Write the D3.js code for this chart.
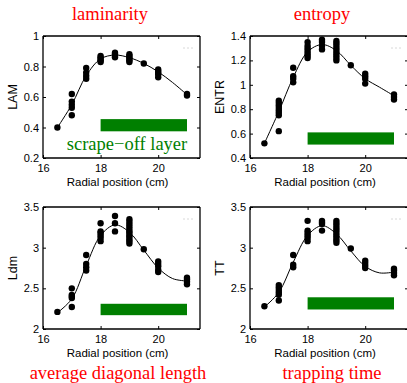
<!DOCTYPE html>
<html>
<head>
<meta charset="utf-8">
<script src="https://cdn.jsdelivr.net/npm/d3@7"></script>
<style>
  body { margin: 0; background: #fff; }
  svg { display: block; }
</style>
</head>
<body>
<svg id="chart"></svg>
<script>
// radial positions where the points were measured
const radial = [16.5, 17, 17.5, 18, 18.5, 19, 19.5, 20, 21];

// measured values, one list per radial position
const lamValues = [
  [0.40], [0.48, 0.53, 0.55, 0.57, 0.62], [0.72, 0.74, 0.76, 0.79],
  [0.83, 0.84, 0.85, 0.86, 0.87], [0.86, 0.87, 0.88, 0.89],
  [0.83, 0.84, 0.85, 0.86, 0.87, 0.88], [0.82], [0.73, 0.75, 0.76, 0.77, 0.78], [0.61, 0.62]
];
const entrValues = [
  [0.52], [0.62, 0.75, 0.77, 0.79, 0.81, 0.83, 0.85, 0.87], [1.02, 1.05, 1.07, 1.14],
  [1.22, 1.24, 1.26, 1.28, 1.30, 1.32, 1.35], [1.29, 1.32, 1.35, 1.37],
  [1.20, 1.22, 1.24, 1.26, 1.28, 1.30, 1.32, 1.34, 1.36], [1.16], [1.01, 1.05, 1.07, 1.09], [0.88, 0.90, 0.92]
];
const ldmValues = [
  [2.21], [2.27, 2.38, 2.40, 2.42, 2.50], [2.72, 2.76, 2.80, 2.91],
  [3.08, 3.12, 3.15, 3.18, 3.20, 3.30], [3.20, 3.30, 3.39],
  [3.05, 3.08, 3.10, 3.13, 3.15, 3.18, 3.20, 3.23, 3.26, 3.29, 3.32, 3.35], [2.98],
  [2.70, 2.73, 2.77, 2.80, 2.83], [2.55, 2.58, 2.61, 2.63]
];
const ttValues = [
  [2.28], [2.35, 2.42, 2.45, 2.48, 2.51, 2.54], [2.76, 2.79, 2.91],
  [3.08, 3.12, 3.15, 3.18, 3.21, 3.33], [3.21, 3.29, 3.31, 3.33],
  [3.06, 3.09, 3.12, 3.15, 3.18, 3.21, 3.24, 3.27, 3.30, 3.33], [2.99],
  [2.75, 2.78, 2.81, 2.84], [2.66, 2.69, 2.72, 2.74]
];

// fitted curves
const fitX = [16.5, 17, 17.5, 18, 18.5, 19, 19.5, 20, 20.5, 21];
const lamFit = [0.40, 0.55, 0.74, 0.85, 0.875, 0.858, 0.82, 0.765, 0.695, 0.615];
const entrFit = [0.52, 0.78, 1.06, 1.27, 1.33, 1.28, 1.16, 1.05, 0.98, 0.91];
const ldmFit = [2.20, 2.37, 2.78, 3.15, 3.28, 3.19, 2.97, 2.75, 2.62, 2.59];
const ttFit = [2.27, 2.45, 2.82, 3.15, 3.27, 3.17, 2.96, 2.77, 2.69, 2.70];

// scrape-off layer band
const solRange = [18, 21];
const lamBand = [0.375, 0.455];
const entrBand = [0.51, 0.61];
const ldmBand = [2.17, 2.31];
const ttBand = [2.24, 2.39];

const xTicks = [16, 18, 20];
const lamTicks = [0.2, 0.4, 0.6, 0.8, 1];
const entrTicks = [0.4, 0.6, 0.8, 1, 1.2, 1.4];
const ldmTicks = [2, 2.5, 3, 3.5];
const ttTicks = [2, 2.5, 3, 3.5];

const width = 407, height = 383;
const svg = d3.select("#chart").attr("width", width).attr("height", height);

const panels = [
  { x0: 43, x1: 200, y0: 36, y1: 158, ylab: "LAM", vals: lamValues, fit: lamFit, band: lamBand,
    yDom: [0.2, 1], yTicks: lamTicks, title: "laminarity", tx: 110, ty: 20 },
  { x0: 250, x1: 408, y0: 36, y1: 158, ylab: "ENTR", vals: entrValues, fit: entrFit, band: entrBand,
    yDom: [0.4, 1.4], yTicks: entrTicks, title: "entropy", tx: 322, ty: 20 },
  { x0: 43, x1: 200, y0: 207, y1: 329, ylab: "Ldm", vals: ldmValues, fit: ldmFit, band: ldmBand,
    yDom: [2, 3.5], yTicks: ldmTicks, title: "average diagonal length", tx: 118, ty: 379 },
  { x0: 250, x1: 408, y0: 207, y1: 329, ylab: "TT", vals: ttValues, fit: ttFit, band: ttBand,
    yDom: [2, 3.5], yTicks: ttTicks, title: "trapping time", tx: 332, ty: 379 }
];

const fmt = d => String(d);

panels.forEach((p, k) => {
  const x = d3.scaleLinear().domain([16, 16 + (p.x1 - p.x0) / 28.8]).range([p.x0, p.x1]);
  const y = d3.scaleLinear().domain(p.yDom).range([p.y1, p.y0]);
  const g = svg.append("g");

  // green band
  g.append("rect")
    .attr("x", x(solRange[0])).attr("width", x(solRange[1]) - x(solRange[0]))
    .attr("y", y(p.band[1])).attr("height", y(p.band[0]) - y(p.band[1]))
    .attr("fill", "#007f00");

  // axes with inward ticks (box style)
  const tick = 3;
  const bottom = d3.axisBottom(x).tickValues(xTicks).tickSize(-tick).tickPadding(6).tickFormat(fmt);
  const top = d3.axisTop(x).tickValues(xTicks).tickSize(-tick).tickFormat("");
  const left = d3.axisLeft(y).tickValues(p.yTicks).tickSize(-tick).tickPadding(4).tickFormat(fmt);
  const right = d3.axisRight(y).tickValues(p.yTicks).tickSize(-tick).tickFormat("");

  const ax = [
    g.append("g").attr("transform", `translate(0,${p.y1})`).call(bottom),
    g.append("g").attr("transform", `translate(0,${p.y0})`).call(top),
    g.append("g").attr("transform", `translate(${p.x0},0)`).call(left),
    g.append("g").attr("transform", `translate(${p.x1},0)`).call(right)
  ];
  ax.forEach(a => {
    a.select(".domain").attr("stroke", "#000").attr("stroke-width", 1.3);
    a.selectAll(".tick line").attr("stroke", "#000");
    a.selectAll("text").attr("font-family", "Liberation Sans, Arial, sans-serif")
      .attr("font-size", 11).attr("fill", "#000");
  });
  ax[0].selectAll(".domain").attr("d", `M${p.x0},0H${p.x1}`);
  ax[1].selectAll(".domain").attr("d", `M${p.x0},0H${p.x1}`);
  ax[2].selectAll(".domain").attr("d", `M0,${p.y1}V${p.y0}`);
  ax[3].selectAll(".domain").attr("d", `M0,${p.y1}V${p.y0}`);

  // faint legend marker
  g.append("line")
    .attr("x1", p.x1 - 17).attr("x2", p.x1 - 5)
    .attr("y1", p.y0 + 12).attr("y2", p.y0 + 12)
    .attr("stroke", "#d8d8d8").attr("stroke-dasharray", "2,2");

  // fitted curve
  const line = d3.line().x((d, i) => x(fitX[i])).y(d => y(d)).curve(d3.curveCatmullRom.alpha(0.5));
  g.append("path").datum(p.fit).attr("d", line)
    .attr("fill", "none").attr("stroke", "#000").attr("stroke-width", 1);

  // points
  const pts = [];
  p.vals.forEach((arr, i) => arr.forEach(v => pts.push([radial[i], v])));
  g.selectAll("circle.pt").data(pts).enter().append("circle")
    .attr("class", "pt")
    .attr("cx", d => x(d[0])).attr("cy", d => y(d[1])).attr("r", 3.2)
    .attr("fill", "#000");

  // labels
  g.append("text")
    .attr("x", (p.x0 + p.x1) / 2 - 4).attr("y", p.y1 + 28)
    .attr("text-anchor", "middle")
    .attr("font-family", "Liberation Sans, Arial, sans-serif").attr("font-size", 11.5)
    .text("Radial position (cm)");
  g.append("text")
    .attr("transform", `translate(${p.x0 - 26},${(p.y0 + p.y1) / 2}) rotate(-90)`)
    .attr("text-anchor", "middle")
    .attr("font-family", "Liberation Sans, Arial, sans-serif").attr("font-size", 12.5)
    .text(p.ylab);
  g.append("text")
    .attr("x", p.tx).attr("y", p.ty)
    .attr("text-anchor", "middle")
    .attr("font-family", "Liberation Serif, Times New Roman, serif").attr("font-size", 18.5)
    .attr("fill", "#ff0000")
    .text(p.title);

  if (k === 0) {
    g.append("text")
      .attr("x", 127).attr("y", 150)
      .attr("text-anchor", "middle")
      .attr("font-family", "Liberation Serif, Times New Roman, serif").attr("font-size", 18.5)
      .attr("fill", "#008000")
      .text("scrape\u2212off layer");
  }
});
</script>
</body>
</html>
